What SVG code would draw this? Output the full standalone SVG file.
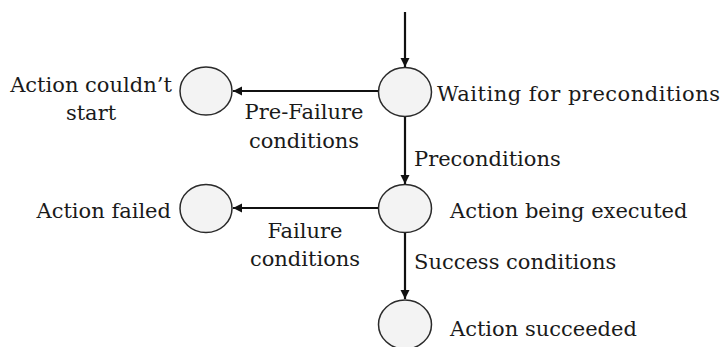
<svg xmlns="http://www.w3.org/2000/svg" width="726" height="347" viewBox="0 0 726 347">
<style>
.st{fill:#f3f3f3;stroke:#2a2a2a;stroke-width:1.5}
.ln{stroke:#111;stroke-width:2.2;fill:none;marker-end:url(#ah)}
text{font-family:"DejaVu Serif","Liberation Serif",serif;font-size:21px;fill:#1a1a1a}
.c{text-anchor:middle}
.e{text-anchor:end}
</style>
<defs>
<marker id="ah" viewBox="0 0 10 10" refX="10" refY="5" markerWidth="4.2" markerHeight="4.2" orient="auto" markerUnits="strokeWidth">
<path d="M0,0 L10,5 L0,10 z" fill="#111"/>
</marker>
</defs>
<rect width="726" height="347" fill="#fff"/>
<g id="connectors">
<line class="ln" x1="405" y1="12" x2="405" y2="67"/>
<line class="ln" x1="405" y1="117" x2="405" y2="184"/>
<line class="ln" x1="405" y1="233" x2="405" y2="299"/>
<line class="ln" x1="379" y1="91" x2="233" y2="91"/>
<line class="ln" x1="379" y1="208" x2="233" y2="208"/>
<text class="c" x="304" y="119">Pre-Failure</text>
<text class="c" x="304" y="148">conditions</text>
<text x="414" y="166">Preconditions</text>
<text class="c" x="305" y="238">Failure</text>
<text class="c" x="305" y="266">conditions</text>
<text x="414" y="269">Success conditions</text>
</g>
<g id="waiting">
<ellipse class="st" cx="405" cy="92" rx="26.5" ry="24.5"/>
<text x="437" y="101" textLength="283">Waiting for preconditions</text>
</g>
<g id="couldnt-start">
<ellipse class="st" cx="206" cy="91" rx="26" ry="24"/>
<text class="c" x="91" y="92">Action couldn’t</text>
<text class="c" x="91" y="120">start</text>
</g>
<g id="executing">
<ellipse class="st" cx="405" cy="208.5" rx="26.5" ry="24"/>
<text x="450" y="218">Action being executed</text>
</g>
<g id="failed">
<ellipse class="st" cx="206" cy="208.5" rx="26" ry="24"/>
<text class="e" x="171" y="218">Action failed</text>
</g>
<g id="succeeded">
<ellipse class="st" cx="405" cy="324.5" rx="26.5" ry="24.5"/>
<text x="450" y="336">Action succeeded</text>
</g>
</svg>
